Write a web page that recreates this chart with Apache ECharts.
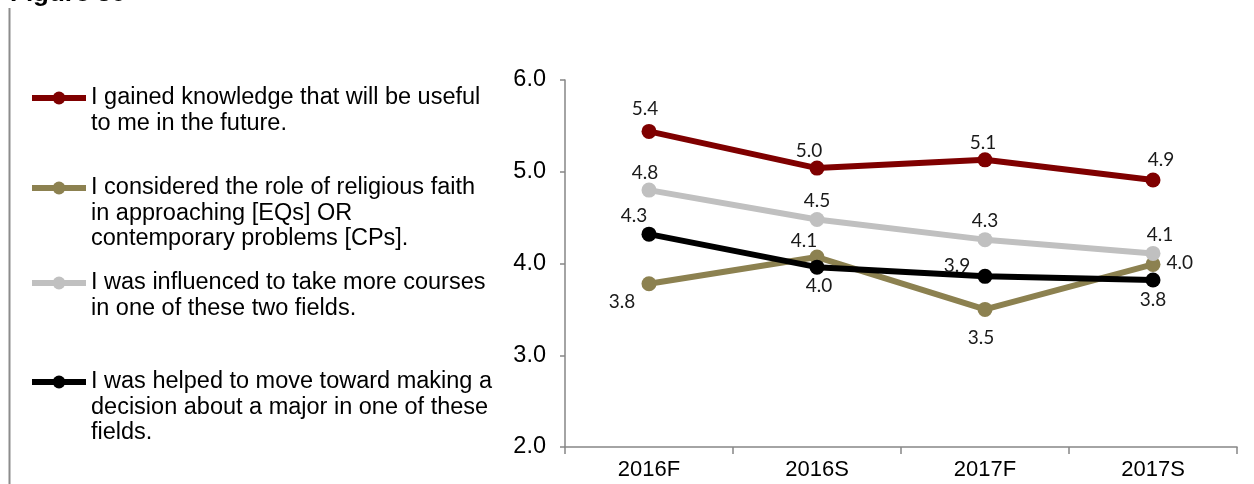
<!DOCTYPE html>
<html>
<head>
<meta charset="utf-8">
<script src="https://cdn.jsdelivr.net/npm/echarts@6/dist/echarts.min.js"></script>
<style>
  html, body { margin: 0; padding: 0; background: #fff; }
  #chart { width: 1254px; height: 484px; }
</style>
</head>
<body>
<div id="chart"></div>
<script>
// Survey periods on the x axis
const periods = ['2016F', '2016S', '2017F', '2017S'];

// Mean ratings per statement
const knowledgeUseful = [5.44, 5.04, 5.13, 4.91];
const religiousFaith = [3.78, 4.07, 3.50, 3.99];
const moreCourses = [4.80, 4.48, 4.26, 4.11];
const majorDecision = [4.32, 3.96, 3.86, 3.82];

// Statement texts (legend wraps them over several lines)
const statementNames = [
  'I gained knowledge that will be useful to me in the future.',
  'I considered the role of religious faith in approaching [EQs] OR contemporary problems [CPs].',
  'I was influenced to take more courses in one of these two fields.',
  'I was helped to move toward making a decision about a major in one of these fields.'
];
const statementLines = [
  ['I gained knowledge that will be useful', 'to me in the future.'],
  ['I considered the role of religious faith', 'in approaching [EQs] OR', 'contemporary problems [CPs].'],
  ['I was influenced to take more courses', 'in one of these two fields.'],
  ['I was helped to move toward making a', 'decision about a major in one of these', 'fields.']
];

// Y axis tick values
const yTicks = [2, 3, 4, 5, 6];

const seriesValues = [knowledgeUseful, religiousFaith, moreCourses, majorDecision];
const colors = ['#7f0000', '#8c8150', '#c0c0c0', '#000000'];

// Where each value label sits around its point
const labelPlacement = [
  [
    { position: 'top', distance: 6, offset: [-4, 0] },
    { position: 'top', distance: 0, offset: [-8, 0] },
    { position: 'top', distance: 0, offset: [-2, 0] },
    { position: 'top', distance: 3, offset: [8, 0] }
  ],
  [
    { position: 'bottom', distance: 1, offset: [-27, 0] },
    { position: 'top', distance: -1, offset: [-13, 0] },
    { position: 'bottom', distance: 11, offset: [-4, 0] },
    { position: 'right', distance: 6, offset: [0, -2] }
  ],
  [
    { position: 'top', distance: 0, offset: [-4, 0] },
    { position: 'top', distance: 2, offset: [0, 0] },
    { position: 'top', distance: 2, offset: [0, 0] },
    { position: 'top', distance: 2, offset: [7, 0] }
  ],
  [
    { position: 'top', distance: 1, offset: [-15, 0] },
    { position: 'bottom', distance: 2, offset: [2, 0] },
    { position: 'top', distance: -1, offset: [-28, 6] },
    { position: 'bottom', distance: 3, offset: [0, 0] }
  ]
];

const LABEL_FONT = 'Lato, "Noto Sans", sans-serif';
const AXIS_FONT = '"Liberation Sans", Arial, sans-serif';
const LINE_H = 25.5;

const series = seriesValues.map(function (vals, si) {
  return {
    name: statementNames[si],
    type: 'line',
    symbol: 'circle',
    symbolSize: 15,
    lineStyle: { width: 6, color: colors[si] },
    itemStyle: { color: colors[si] },
    z: 2 + si,
    label: {
      show: true,
      fontFamily: LABEL_FONT,
      fontSize: 19,
      color: '#1a1a1a',
      formatter: function (p) { return Number(p.value).toFixed(1); }
    },
    data: vals.map(function (v, i) {
      return { value: v, label: labelPlacement[si][i] };
    })
  };
});

// First text line centre of each legend entry
const legendFirstLineY = [98, 188, 283, 382];

// One legend per statement; blank lines above the text keep the
// icon level with the first line of a wrapped entry
const legends = statementNames.map(function (name, si) {
  const n = statementLines[si].length;
  const pad = new Array(n).join('\n');
  return {
    orient: 'vertical',
    left: 29,
    top: legendFirstLineY[si] - (2 * n - 1) * LINE_H / 2,
    padding: 0,
    itemWidth: 54,
    itemHeight: 16,
    selectedMode: false,
    lineStyle: { width: 6 },
    data: [name],
    formatter: function () { return pad + statementLines[si].join('\n'); },
    textStyle: {
      fontFamily: AXIS_FONT,
      fontSize: 23.5,
      color: '#000',
      lineHeight: LINE_H
    }
  };
});

const chart = echarts.init(document.getElementById('chart'), null, { renderer: 'canvas' });
chart.setOption({
  animation: false,
  backgroundColor: '#fff',
  color: colors,
  graphic: [
    {
      type: 'line',
      shape: { x1: 9.5, y1: 8, x2: 9.5, y2: 484 },
      style: { stroke: '#8c8c8c', lineWidth: 2 }
    },
    {
      type: 'text',
      left: 10,
      top: -19,
      style: {
        text: 'Figure 30',
        font: 'bold 26px "Liberation Sans", Arial, sans-serif',
        fill: '#000'
      }
    }
  ],
  legend: legends,
  grid: { left: 565, right: 17, top: 80, bottom: 37, containLabel: false },
  xAxis: {
    type: 'category',
    data: periods,
    boundaryGap: true,
    axisLine: { lineStyle: { color: '#868686', width: 1.5 } },
    axisTick: { show: true, length: 7, lineStyle: { color: '#868686', width: 1.5 } },
    axisLabel: { fontFamily: AXIS_FONT, fontSize: 22, color: '#000', margin: 12 }
  },
  yAxis: {
    type: 'value',
    min: yTicks[0],
    max: yTicks[yTicks.length - 1],
    interval: 1,
    splitLine: { show: false },
    axisLine: { show: true, lineStyle: { color: '#868686', width: 1.5 } },
    axisTick: { show: true, length: 5, lineStyle: { color: '#868686', width: 1.5 } },
    axisLabel: {
      fontFamily: AXIS_FONT,
      fontSize: 23.5,
      color: '#000',
      margin: 19,
      formatter: function (v) { return v.toFixed(1); }
    }
  },
  series: series
});
</script>
</body>
</html>
